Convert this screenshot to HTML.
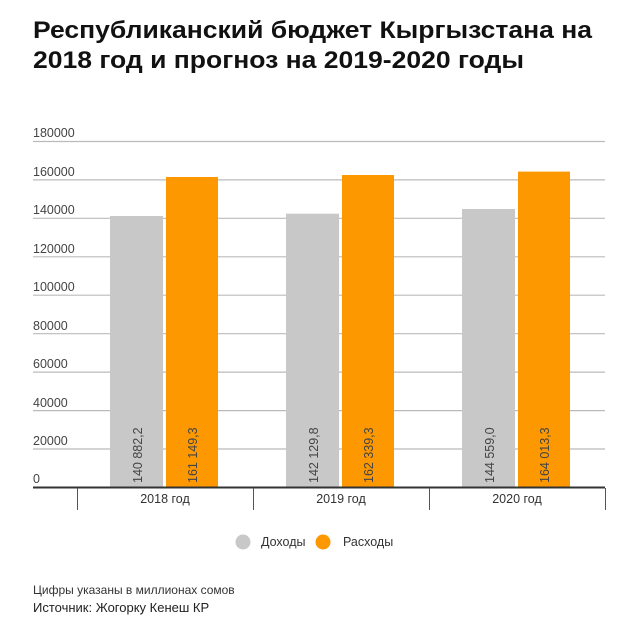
<!DOCTYPE html>
<html><head><meta charset="utf-8"><style>
body{margin:0;background:#fff;font-family:"Liberation Sans",sans-serif;}
</style></head><body>
<svg width="640" height="629" xmlns="http://www.w3.org/2000/svg" font-family="Liberation Sans, sans-serif">
<text x="33" y="38" font-size="24" font-weight="bold" fill="#111" textLength="559" lengthAdjust="spacingAndGlyphs">Республиканский бюджет Кыргызстана на</text>
<text x="33" y="68" font-size="24" font-weight="bold" fill="#111" textLength="491" lengthAdjust="spacingAndGlyphs">2018 год и прогноз на 2019-2020 годы</text>
<g stroke="#bbb" stroke-width="1.2">
<line x1="33" x2="605" y1="141.5" y2="141.5"/><line x1="33" x2="605" y1="179.9" y2="179.9"/>
<line x1="33" x2="605" y1="218.3" y2="218.3"/><line x1="33" x2="605" y1="256.8" y2="256.8"/>
<line x1="33" x2="605" y1="295.2" y2="295.2"/><line x1="33" x2="605" y1="333.7" y2="333.7"/>
<line x1="33" x2="605" y1="372.1" y2="372.1"/><line x1="33" x2="605" y1="410.6" y2="410.6"/>
<line x1="33" x2="605" y1="449" y2="449"/>
</g>
<g font-size="12.5" fill="#444">
<text x="33" y="137">180000</text><text x="33" y="176">160000</text><text x="33" y="214">140000</text>
<text x="33" y="253">120000</text><text x="33" y="291">100000</text><text x="33" y="330">80000</text>
<text x="33" y="368">60000</text><text x="33" y="407">40000</text><text x="33" y="445">20000</text>
<text x="33" y="483">0</text>
</g>
<g>
<rect x="110" y="216" width="53" height="271" fill="#c8c8c8"/>
<rect x="166" y="177" width="52" height="310" fill="#fd9800"/>
<rect x="286" y="213.7" width="53" height="273.3" fill="#c8c8c8"/>
<rect x="342" y="175" width="52" height="312" fill="#fd9800"/>
<rect x="462" y="209" width="53" height="278" fill="#c8c8c8"/>
<rect x="518" y="171.6" width="52" height="315.4" fill="#fd9800"/>
</g>
<g font-size="12.5" fill="#444">
<text transform="translate(142,483) rotate(-90)">140 882,2</text>
<text transform="translate(197,483) rotate(-90)">161 149,3</text>
<text transform="translate(318,483) rotate(-90)">142 129,8</text>
<text transform="translate(373,483) rotate(-90)">162 339,3</text>
<text transform="translate(494,483) rotate(-90)">144 559,0</text>
<text transform="translate(549,483) rotate(-90)">164 013,3</text>
</g>
<line x1="33" x2="605" y1="487.5" y2="487.5" stroke="#333" stroke-width="2"/>
<g stroke="#555" stroke-width="1">
<line x1="77.5" x2="77.5" y1="488" y2="510"/><line x1="253.5" x2="253.5" y1="488" y2="510"/>
<line x1="429.5" x2="429.5" y1="488" y2="510"/><line x1="605.5" x2="605.5" y1="488" y2="510"/>
</g>
<g font-size="12.5" fill="#333" text-anchor="middle">
<text x="165" y="503">2018 год</text><text x="341" y="503">2019 год</text><text x="517" y="503">2020 год</text>
</g>
<circle cx="243" cy="542" r="7.5" fill="#c8c8c8"/>
<text x="261" y="546" font-size="12.5" fill="#333">Доходы</text>
<circle cx="323" cy="542" r="7.5" fill="#fd9800"/>
<text x="343" y="546" font-size="12.5" fill="#333">Расходы</text>
<text x="33" y="594" font-size="12" fill="#333">Цифры указаны в миллионах сомов</text>
<text x="33" y="612" font-size="13" fill="#222">Источник: Жогорку Кенеш КР</text>
</svg>
</body></html>
